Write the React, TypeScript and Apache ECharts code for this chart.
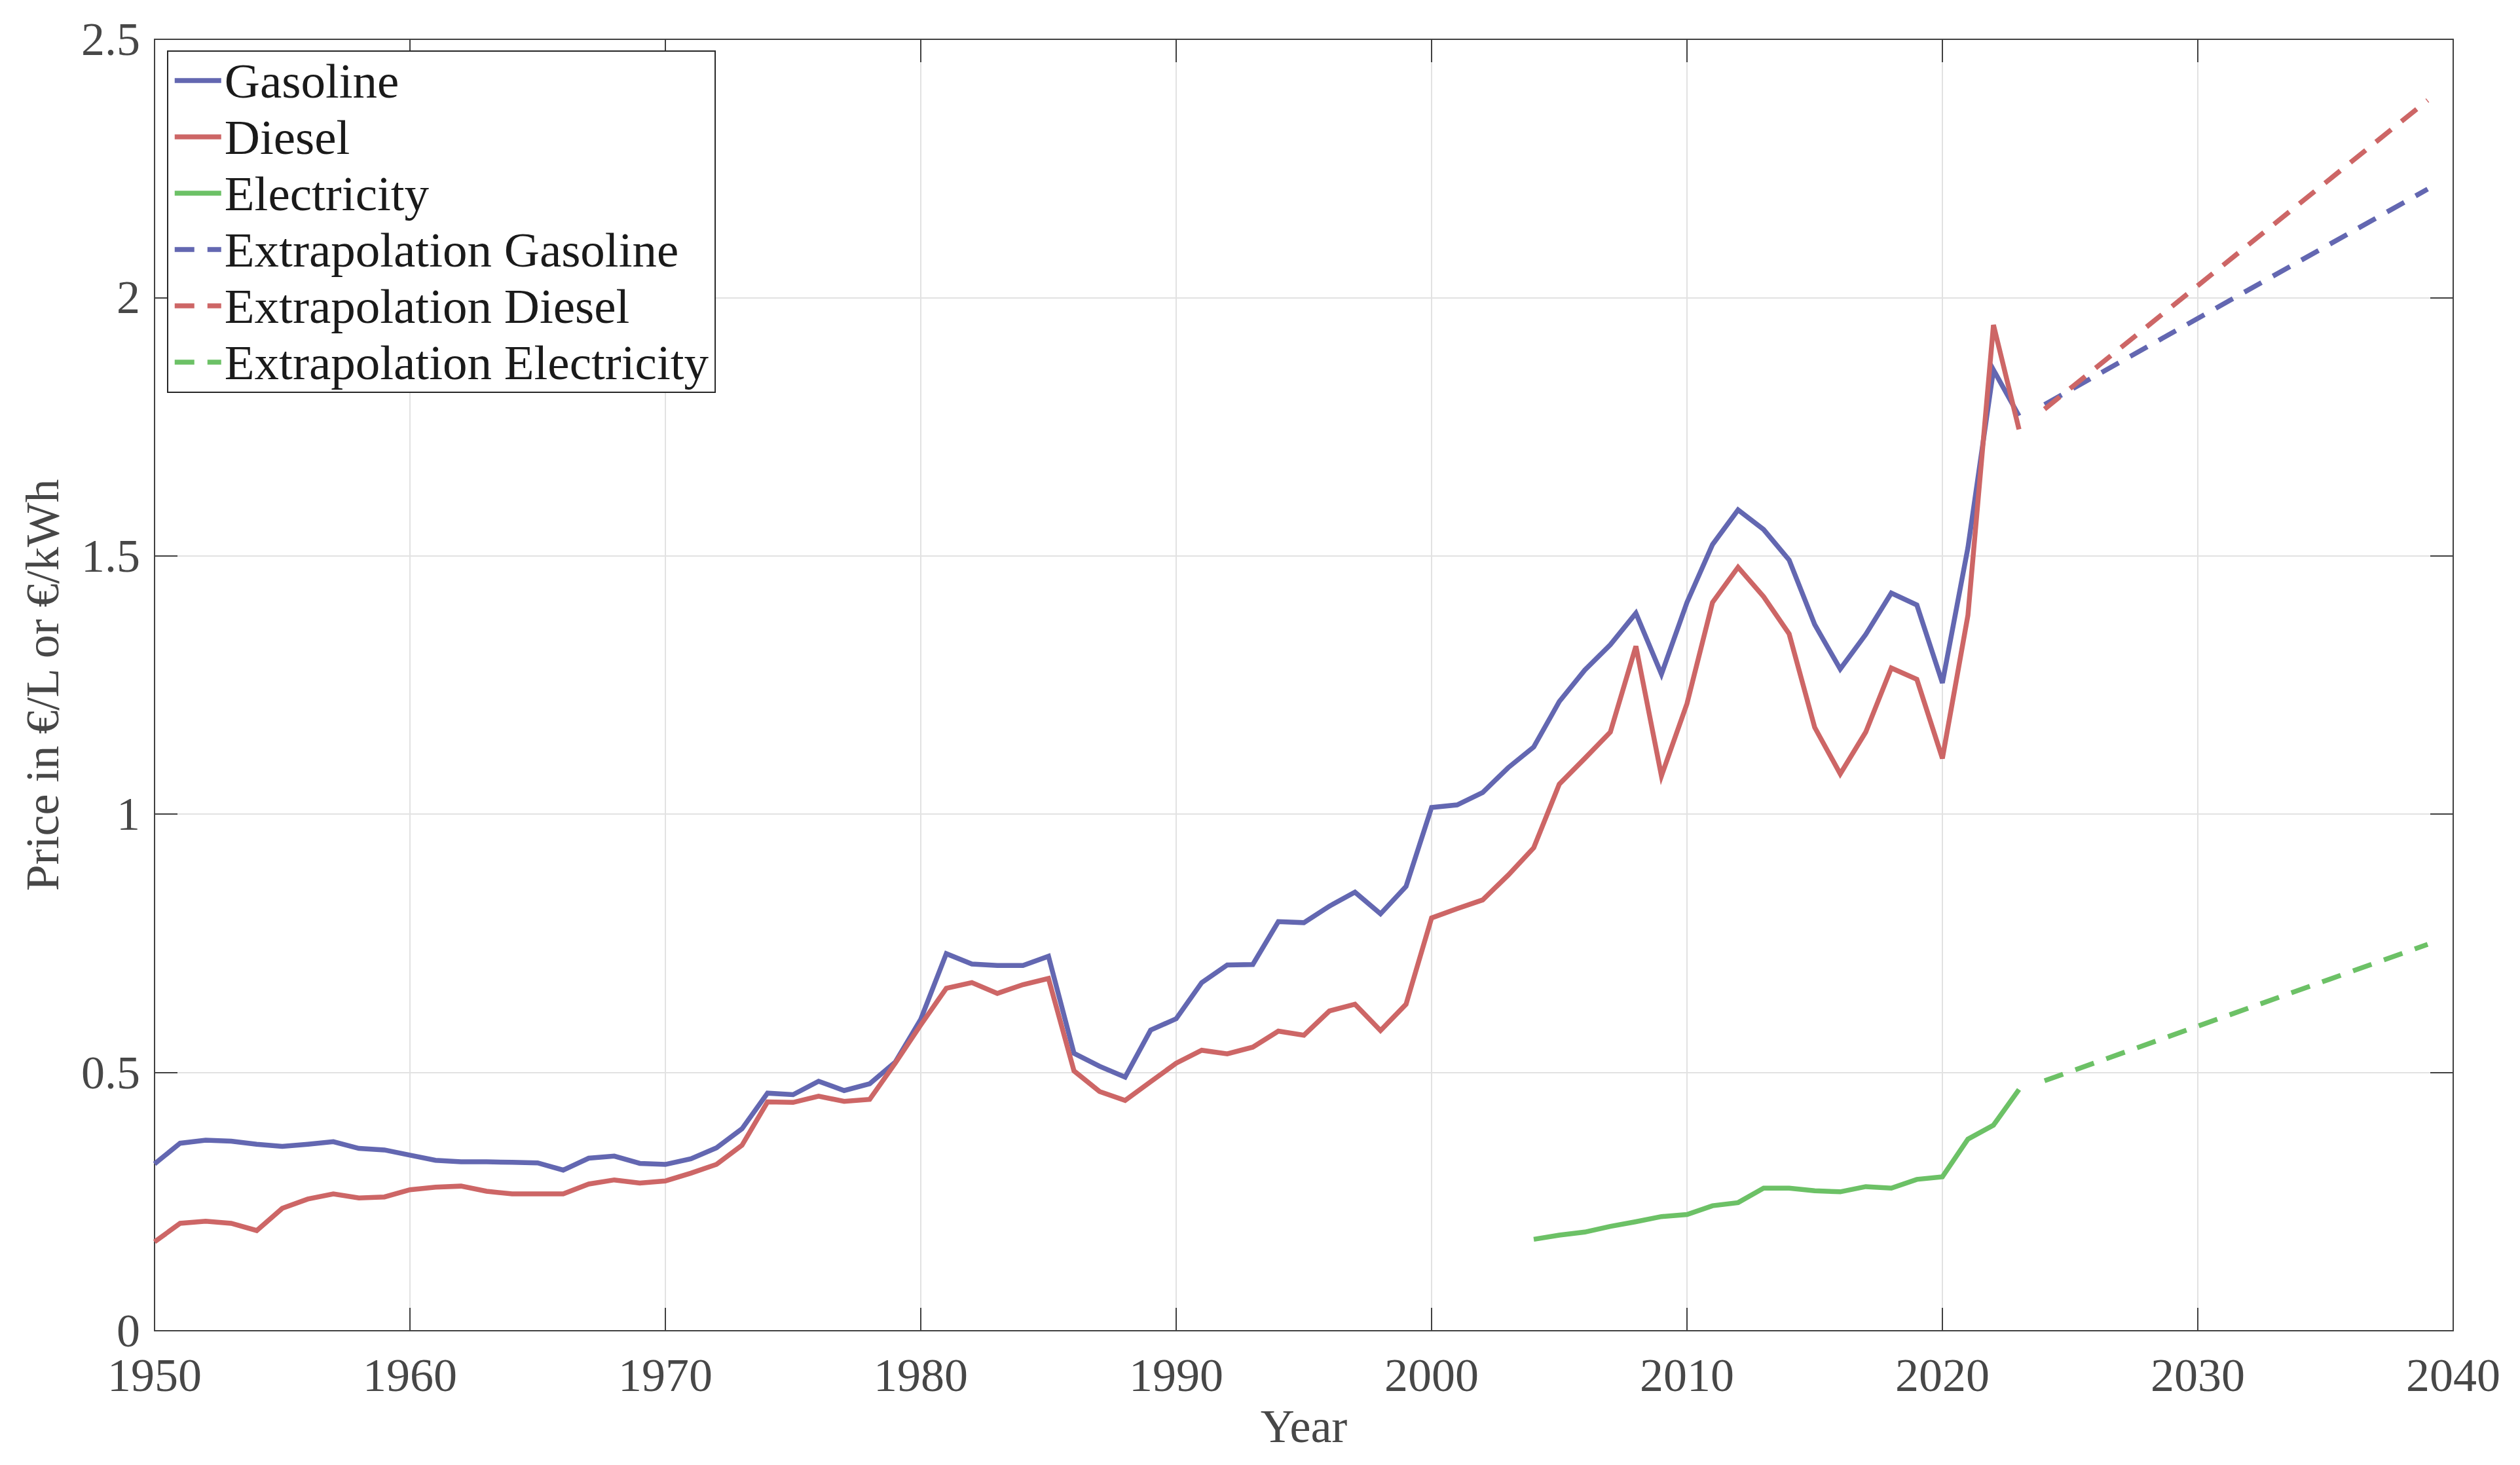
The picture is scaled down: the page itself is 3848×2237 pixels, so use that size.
import React, { useEffect, useRef } from "react";
import * as echarts from "echarts";

// ---------- data ----------
const histYears = [
  1950, 1951, 1952, 1953, 1954, 1955, 1956, 1957, 1958, 1959,
  1960, 1961, 1962, 1963, 1964, 1965, 1966, 1967, 1968, 1969,
  1970, 1971, 1972, 1973, 1974, 1975, 1976, 1977, 1978, 1979,
  1980, 1981, 1982, 1983, 1984, 1985, 1986, 1987, 1988, 1989,
  1990, 1991, 1992, 1993, 1994, 1995, 1996, 1997, 1998, 1999,
  2000, 2001, 2002, 2003, 2004, 2005, 2006, 2007, 2008, 2009,
  2010, 2011, 2012, 2013, 2014, 2015, 2016, 2017, 2018, 2019,
  2020, 2021, 2022, 2023,
];

const gasoline = [
  0.323, 0.363, 0.369, 0.367, 0.361, 0.357, 0.361, 0.366, 0.353, 0.35,
  0.34, 0.33, 0.327, 0.327, 0.326, 0.325, 0.311, 0.334, 0.338, 0.324,
  0.322, 0.333, 0.354, 0.391, 0.46, 0.457, 0.483, 0.465, 0.478, 0.52,
  0.603, 0.73, 0.71, 0.707, 0.707, 0.725, 0.537, 0.512, 0.491, 0.582,
  0.604, 0.674, 0.708, 0.709, 0.792, 0.79, 0.822, 0.849, 0.807, 0.86,
  1.013, 1.018, 1.042, 1.09, 1.13, 1.218, 1.279, 1.328, 1.389, 1.271,
  1.41, 1.522, 1.589, 1.551, 1.492, 1.367, 1.281, 1.348, 1.428, 1.405,
  1.254, 1.516, 1.86, 1.771,
];

const diesel = [
  0.172, 0.208, 0.212, 0.208, 0.194, 0.237, 0.255, 0.265, 0.257, 0.259,
  0.273, 0.278, 0.28, 0.27, 0.265, 0.265, 0.265, 0.284, 0.292, 0.286,
  0.29, 0.305, 0.322, 0.359, 0.443, 0.442, 0.454, 0.444, 0.448, 0.518,
  0.592, 0.663, 0.674, 0.653, 0.67, 0.682, 0.503, 0.463, 0.446, 0.482,
  0.518, 0.543, 0.536, 0.549, 0.58, 0.572, 0.619, 0.632, 0.581, 0.632,
  0.799, 0.817, 0.834, 0.882, 0.935, 1.058, 1.108, 1.159, 1.325, 1.074,
  1.214, 1.41, 1.478, 1.421, 1.349, 1.168, 1.078, 1.159, 1.283, 1.261,
  1.108, 1.385, 1.947, 1.745,
];

const elecYears = [
  2004, 2005, 2006, 2007, 2008, 2009, 2010, 2011, 2012, 2013,
  2014, 2015, 2016, 2017, 2018, 2019, 2020, 2021, 2022, 2023,
];
const electricity = [
  0.177, 0.185, 0.191, 0.202, 0.211, 0.221, 0.225, 0.242, 0.248, 0.276,
  0.276, 0.271, 0.269, 0.279, 0.276, 0.293, 0.298, 0.371, 0.398, 0.467,
];

const extraYears = [2024, 2039];
const extraGasoline = [1.793, 2.21];
const extraDiesel = [1.784, 2.382];
const extraElectricity = [0.484, 0.748];

const seriesNames = [
  "Gasoline",
  "Diesel",
  "Electricity",
  "Extrapolation Gasoline",
  "Extrapolation Diesel",
  "Extrapolation Electricity",
];

const xMin = 1950;
const xMax = 2040;
const xStep = 10;
const yMin = 0;
const yMax = 2.5;
const yStep = 0.5;

// ---------- styles ----------
const FONT = "'Liberation Serif', 'Times New Roman', serif";
const C_GAS = "#6367B1";
const C_DIE = "#CD6666";
const C_ELE = "#6CC166";
const AXIS = "#404040";
const LABEL = "#474747";
const GRID = "#e2e2e2";
const LW = 7.5;
const DASH = [30, 20];

function pairs(xs: number[], ys: number[]) {
  return xs.map((x, i) => [x, ys[i]]);
}

function lineSeries(name: string, xs: number[], ys: number[], color: string, dashed: boolean) {
  return {
    name,
    type: "line",
    data: pairs(xs, ys),
    symbol: "none",
    showSymbol: false,
    xAxisIndex: 0,
    yAxisIndex: 0,
    lineStyle: { color, width: LW, type: dashed ? DASH : "solid", cap: "butt", join: "miter" },
    itemStyle: { color },
    emphasis: { disabled: true },
  };
}

const tickCommon = {
  show: true,
  inside: true,
  length: 35,
  lineStyle: { color: AXIS, width: 2 },
};
const axisLineCommon = {
  show: true,
  onZero: false,
  lineStyle: { color: AXIS, width: 2 },
};

export default function App() {
  const ref = useRef<HTMLDivElement>(null);

  useEffect(() => {
    if (!ref.current) return;
    const chart = echarts.init(ref.current, undefined, { renderer: "svg" });
    chart.setOption({
      animation: false,
      backgroundColor: "#ffffff",
      grid: { left: 236, right: 102, top: 60, bottom: 205, containLabel: false },
      legend: {
        orient: "vertical",
        left: 256,
        top: 78,
        padding: [2, 10, 3, 7],
        itemGap: 0,
        itemWidth: 71,
        itemHeight: 14,
        backgroundColor: "#ffffff",
        borderColor: "#262626",
        borderWidth: 2,
        selectedMode: false,
        itemStyle: { opacity: 0 },
        lineStyle: { width: LW },
        textStyle: { fontFamily: FONT, fontSize: 75, color: "#1a1a1a", lineHeight: 86 },
        data: seriesNames,
      },
      xAxis: [
        {
          type: "value",
          position: "bottom",
          min: xMin,
          max: xMax,
          interval: xStep,
          name: "Year",
          nameLocation: "middle",
          nameGap: 110,
          nameTextStyle: { fontFamily: FONT, fontSize: 72, color: LABEL },
          axisLine: axisLineCommon,
          axisTick: tickCommon,
          axisLabel: {
            fontFamily: FONT,
            fontSize: 72,
            lineHeight: 52,
            color: LABEL,
            margin: 42,
            formatter: (v: number) => String(v),
          },
          splitLine: { show: true, lineStyle: { color: GRID, width: 2 } },
        },
        {
          type: "value",
          position: "top",
          min: xMin,
          max: xMax,
          interval: xStep,
          axisLine: axisLineCommon,
          axisTick: tickCommon,
          axisLabel: { show: false },
          splitLine: { show: false },
        },
      ],
      yAxis: [
        {
          type: "value",
          position: "left",
          min: yMin,
          max: yMax,
          interval: yStep,
          name: "Price in €/L or €/kWh",
          nameLocation: "middle",
          nameGap: 141,
          nameTextStyle: { fontFamily: FONT, fontSize: 72, color: LABEL, lineHeight: 60 },
          axisLine: axisLineCommon,
          axisTick: tickCommon,
          axisLabel: { fontFamily: FONT, fontSize: 72, lineHeight: 52, color: LABEL, margin: 22 },
          splitLine: { show: true, lineStyle: { color: GRID, width: 2 } },
        },
        {
          type: "value",
          position: "right",
          min: yMin,
          max: yMax,
          interval: yStep,
          axisLine: axisLineCommon,
          axisTick: tickCommon,
          axisLabel: { show: false },
          splitLine: { show: false },
        },
      ],
      series: [
        lineSeries(seriesNames[0], histYears, gasoline, C_GAS, false),
        lineSeries(seriesNames[1], histYears, diesel, C_DIE, false),
        lineSeries(seriesNames[2], elecYears, electricity, C_ELE, false),
        lineSeries(seriesNames[3], extraYears, extraGasoline, C_GAS, true),
        lineSeries(seriesNames[4], extraYears, extraDiesel, C_DIE, true),
        lineSeries(seriesNames[5], extraYears, extraElectricity, C_ELE, true),
      ],
    });
    return () => chart.dispose();
  }, []);

  return (
    <div
      ref={ref}
      style={{ position: "absolute", left: 0, top: 0, width: 3848, height: 2237 }}
    />
  );
}
